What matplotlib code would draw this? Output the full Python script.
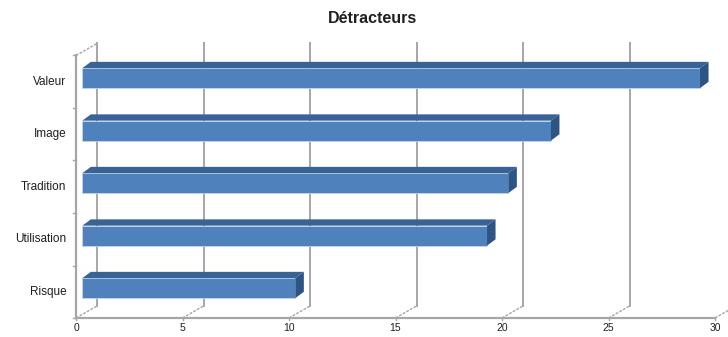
import matplotlib.pyplot as plt
from matplotlib.patches import Polygon
import numpy as np

plt.rcParams['font.family'] = ['Liberation Sans', 'DejaVu Sans']

categories = ["Risque", "Utilisation", "Tradition", "Image", "Valeur"]
values = [10, 19, 20, 22, 29]
x_ticks = [0, 5, 10, 15, 20, 25, 30]
title = "Détracteurs"

# fake 3d look: depth vector in data units
DX, DY = 0.99, 0.23
F = 0.3            # bar front plane position (fraction of depth)
BX, BY = 0.4, 0.12  # bar thickness offset
H = 0.38           # bar face height

face_col = "#4F81BD"
top_col = "#3A6395"
side_col = "#2E5385"
grid_col = "#A6A6A6"
txt_col = "#1F1F1F"

fig = plt.figure(figsize=(7.28, 3.37), dpi=100)
ax = fig.add_axes([0, 0, 1, 1])
ax.set_xlim(-76 / 21.3, (728 - 76) / 21.3)
ax.set_ylim(-19 / 52.5, 318 / 52.5)
ax.axis("off")

n = len(categories)
xmax = x_ticks[-1]

# back wall gridlines + floor diagonals
for t in x_ticks:
    if t > 0:
        ax.plot([t + DX, t + DX], [DY, n + DY], color=grid_col, lw=1.4, zorder=1)
    ax.plot([t, t + DX], [0, DY], color=grid_col, lw=1.0, ls=(0, (2, 1)), zorder=1)
    ax.plot([t, t], [0, -0.04], color=grid_col, lw=1.0, zorder=1)
    ax.text(t, -0.19, str(t), ha="center", va="center", fontsize=7.5, color=txt_col)

# back left wall edge and front axes
ax.plot([DX, DX], [DY, n + DY], color=grid_col, lw=1.4, zorder=1)
ax.plot([0, DX], [n, n + DY], color=grid_col, lw=1.0, ls=(0, (2, 1)), zorder=1)
ax.plot([0, 0], [0, n], color=grid_col, lw=1.6, zorder=4)
ax.plot([0, xmax], [0, 0], color=grid_col, lw=1.6, zorder=4)
for i in range(n + 1):
    ax.plot([-0.15, 0], [i, i], color=grid_col, lw=1.0, zorder=4)

# bars
for i, (cat, v) in enumerate(zip(categories, values)):
    x0 = F * DX
    yc = i + 0.5 + F * DY
    yb, yt = yc - H / 2, yc + H / 2
    ax.barh(yc, v, left=x0, height=H, color=face_col, edgecolor="#C5D5EA",
            linewidth=0.6, zorder=3)
    ax.add_patch(Polygon([(x0, yt), (x0 + v, yt), (x0 + v + BX, yt + BY),
                          (x0 + BX, yt + BY)], closed=True,
                         facecolor=top_col, edgecolor="none", zorder=3))
    ax.add_patch(Polygon([(x0 + v, yb), (x0 + v, yt), (x0 + v + BX, yt + BY),
                          (x0 + v + BX, yb + BY)], closed=True,
                         facecolor=side_col, edgecolor="none", zorder=3))
    ax.text(-0.45, i + 0.5, cat, ha="right", va="center", fontsize=8.5,
            color=txt_col)

fig.text(0.511, 0.945, title, ha="center", va="center", fontsize=11.5,
         fontweight="bold", color=txt_col)

fig.savefig("out.png", dpi=100)
